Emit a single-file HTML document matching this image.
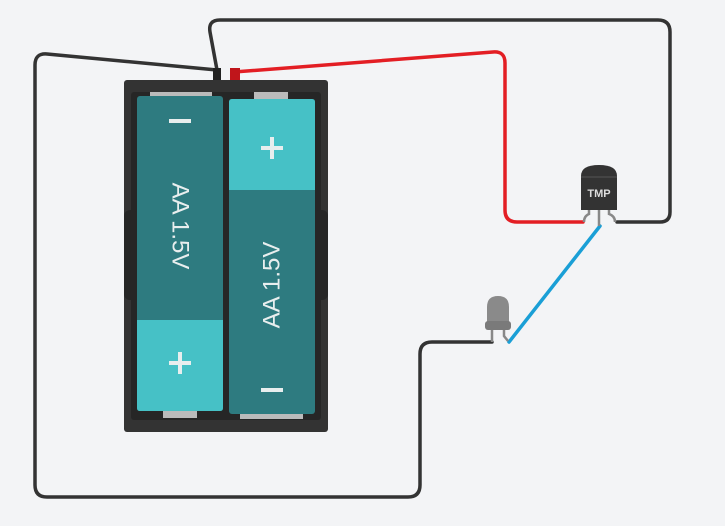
<!DOCTYPE html>
<html><head><style>body{margin:0;background:#f3f4f6}svg{display:block}</style></head><body>
<svg width="725" height="526" viewBox="0 0 725 526" xmlns="http://www.w3.org/2000/svg" font-family="Liberation Sans, sans-serif">
<rect width="725" height="526" fill="#f3f4f6"/>
<g fill="none" stroke-width="3.5" stroke-linecap="round">
<path d="M217,70 L210,32 Q208,20 220,20 L658,20 Q670,20 670,32 L670,212 Q670,222 660,222 L617,222" stroke="#333"/>
<path d="M217,70 L47,54 Q35,53 35,65 L35,485 Q35,497 47,497 L408,497 Q420,497 420,485 L420,354 Q420,342 432,342 L492,342" stroke="#333"/>
<path d="M234,72 L493,52 Q505,51 505,63 L505,210 Q505,222 517,222 L583,222" stroke="#e31e24"/>
<path d="M600,226 L509,342" stroke="#1a9fd6"/>
</g>
<rect x="213" y="68" width="8" height="12" fill="#222"/>
<rect x="230" y="68" width="10" height="12" fill="#c0151b"/>
<rect x="124" y="80" width="204" height="352" rx="3" fill="#333"/>
<rect x="131" y="92" width="190" height="328" rx="3" fill="#262626"/>
<rect x="124" y="210" width="14" height="90" rx="6" fill="#262626"/>
<rect x="314" y="210" width="14" height="90" rx="6" fill="#262626"/>
<rect x="150" y="92" width="62" height="6" fill="#bbb"/>
<rect x="254" y="92" width="34" height="8" fill="#bbb"/>
<rect x="163" y="411" width="34" height="7" fill="#bbb"/>
<rect x="240" y="413" width="63" height="6" fill="#bbb"/>
<rect x="137" y="96" width="86" height="315" rx="3" fill="#2e7b80"/>
<path d="M137,320 H223 V408 Q223,411 220,411 H140 Q137,411 137,408 Z" fill="#46c1c6"/>
<rect x="229" y="99" width="86" height="315" rx="3" fill="#2e7b80"/>
<path d="M229,190 H315 V102 Q315,99 312,99 H232 Q229,99 229,102 Z" fill="#46c1c6"/>
<g fill="#e8eeee">
<rect x="169" y="119" width="22" height="4"/>
<rect x="169" y="361" width="22" height="4"/><rect x="178" y="352" width="4" height="22"/>
<rect x="261" y="146" width="22" height="4"/><rect x="270" y="137" width="4" height="22"/>
<rect x="261" y="388" width="22" height="4"/>
</g>
<text transform="translate(180,226) rotate(90)" font-size="24" fill="#e8eeee" text-anchor="middle" dominant-baseline="central">AA 1.5V</text>
<text transform="translate(272,285) rotate(-90)" font-size="24" fill="#e8eeee" text-anchor="middle" dominant-baseline="central">AA 1.5V</text>
<g fill="none" stroke="#888" stroke-width="2.5">
<path d="M589,208 V214 Q584,216 584,222"/>
<path d="M599,208 V226"/>
<path d="M609,208 V214 Q615,216 615,222"/>
<path d="M492,330 V342"/><path d="M504,330 V336 L508,341"/>
</g>
<path d="M581,176 Q581,165 599,165 Q617,165 617,176 V210 H581 Z" fill="#333"/>
<path d="M581,177 H617" stroke="#555" stroke-width="1"/>
<text x="599" y="197" font-size="11" font-weight="bold" fill="#ddd" text-anchor="middle">TMP</text>
<path d="M487,307 Q487,296 498,296 Q509,296 509,307 V324 H487 Z" fill="#8a8a8a"/>
<rect x="485" y="321" width="26" height="9" rx="3" fill="#7a7a7a"/>
</svg>
</body></html>
